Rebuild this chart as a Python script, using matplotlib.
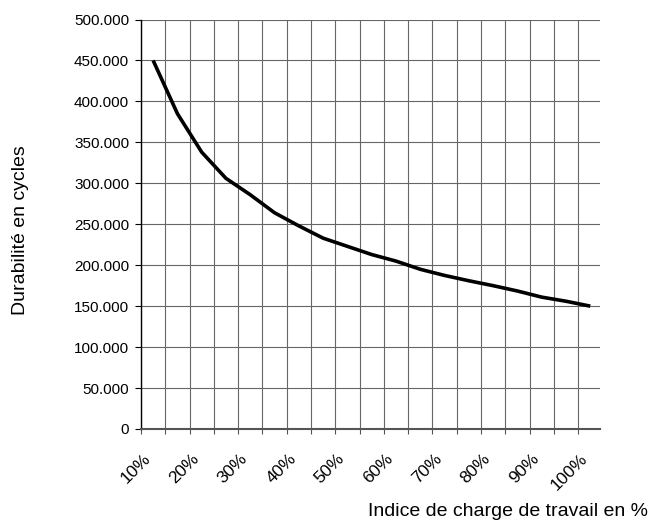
import matplotlib
matplotlib.use('Agg')
import matplotlib.pyplot as plt
import numpy as np
from matplotlib.ticker import FuncFormatter, MultipleLocator

plt.rcParams['font.family'] = ['Liberation Sans', 'DejaVu Sans']

# load index categories (10% .. 100% in 5% steps) and durability in cycles
charge = ['10%', '15%', '20%', '25%', '30%', '35%', '40%', '45%', '50%', '55%',
          '60%', '65%', '70%', '75%', '80%', '85%', '90%', '95%', '100%']
cycles = [450000, 385000, 338000, 306000, 286000, 264000, 248000, 233000, 223000,
          213000, 205000, 195000, 187500, 181000, 175000, 168500, 161000, 156000, 150000]

fig = plt.figure(figsize=(6.56, 5.27), dpi=100)
ax = fig.add_axes([141 / 656, 1 - 429 / 527, 459 / 656, 409.5 / 527])

x = np.arange(len(charge))
ax.plot(x, cycles, color='black', lw=2.6, solid_capstyle='butt', zorder=3)

ax.set_xlim(-0.5, len(charge) - 0.6)
ax.set_ylim(0, 500000)

# labels on every other category, grid on category boundaries
ax.set_xticks(x[::2])
ax.set_xticklabels(charge[::2], rotation=45, ha='right', fontsize=12.5)
ax.set_xticks(np.arange(-0.5, len(charge) - 0.5), minor=True)
ax.tick_params(axis='x', which='major', length=0, pad=16)
ax.tick_params(axis='x', which='minor', length=3.5, width=0.8, color='#555555')
ax.grid(axis='x', which='minor', color='#666666', lw=0.8)

ax.yaxis.set_major_locator(MultipleLocator(50000))
ax.yaxis.set_major_formatter(FuncFormatter(lambda v, p: f'{int(v):,}'.replace(',', '.')))
ax.tick_params(axis='y', length=4.5, width=0.8, pad=4, labelsize=11)
ax.grid(axis='y', which='major', color='#666666', lw=0.8)
ax.set_axisbelow(True)

for s in ['top', 'right']:
    ax.spines[s].set_visible(False)
ax.spines['left'].set_color('black')
ax.spines['left'].set_linewidth(1.0)
ax.spines['bottom'].set_color('#555555')
ax.spines['bottom'].set_linewidth(1.5)

fig.text(21 / 656, 1 - 230 / 527, 'Durabilité en cycles', rotation=90,
         ha='center', va='center', fontsize=14)
fig.text(648 / 656, 1 - 512 / 527, 'Indice de charge de travail en %',
         ha='right', va='center', fontsize=14)

fig.savefig('out.png', dpi=100)
